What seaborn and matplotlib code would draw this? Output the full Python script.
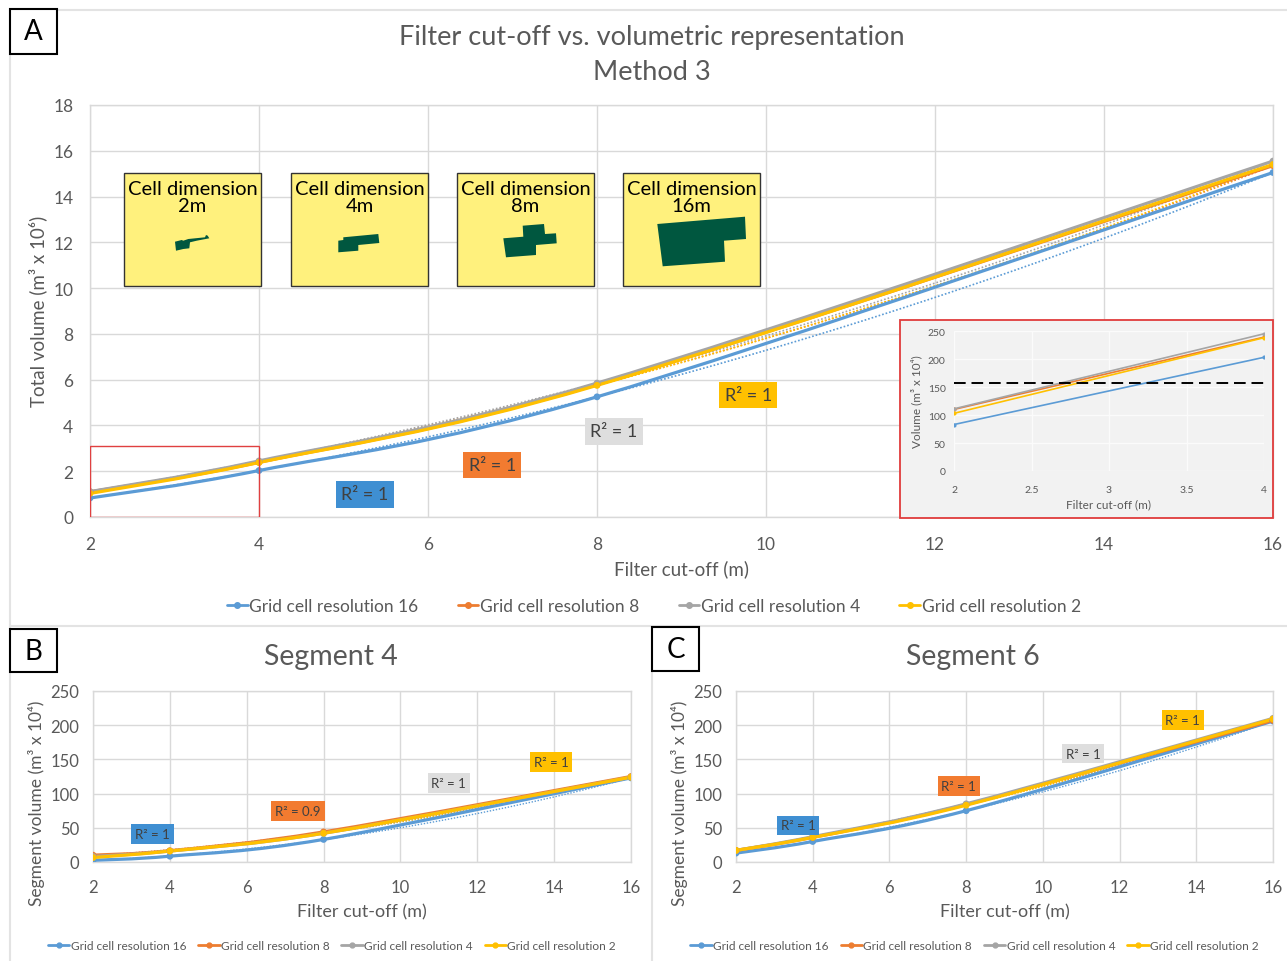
import numpy as np
import pandas as pd
import matplotlib
matplotlib.use("Agg")
import matplotlib.pyplot as plt
from matplotlib.path import Path
from matplotlib.patches import PathPatch, Rectangle, Polygon
from matplotlib.lines import Line2D
import seaborn as sns

sns.set_theme(style="white")
plt.rcParams["font.family"] = ["Lato", "DejaVu Sans"]

# ---------------- data ----------------
cutoff = [2, 4, 8, 16]
series_names = ["Grid cell resolution 16", "Grid cell resolution 8",
                "Grid cell resolution 4", "Grid cell resolution 2"]
colors = ["#5B9BD5", "#ED7D31", "#A5A5A5", "#FFC000"]

# Total volume, method 3 (m3 x 10^6)
total_res16 = [0.83, 2.03, 5.25, 15.05]
total_res8 = [1.10, 2.39, 5.78, 15.35]
total_res4 = [1.11, 2.45, 5.85, 15.55]
total_res2 = [1.03, 2.38, 5.75, 15.40]

# Segment 4 volume (m3 x 10^4)
seg4_res16 = [2.5, 8.5, 33, 123]
seg4_res8 = [10, 16.5, 44, 125]
seg4_res4 = [8, 16, 42, 124]
seg4_res2 = [6.5, 16, 42, 124]

# Segment 6 volume (m3 x 10^4)
seg6_res16 = [13, 30, 75, 206]
seg6_res8 = [17, 36, 84, 207]
seg6_res4 = [17, 37, 85, 210]
seg6_res2 = [17, 36, 83, 209]

# Inset: first two cut-offs in m3 x 10^4
inset_cutoff = [2, 4]
inset_res16 = [83, 203]
inset_res8 = [110, 239]
inset_res4 = [111, 245]
inset_res2 = [103, 238]
inset_threshold = 158

# R² labels: (text, x, y) per series
r2_total = [("R² = 1", 5.25, 1.0), ("R² = 1", 6.76, 2.27),
            ("R² = 1", 8.2, 3.75), ("R² = 1", 9.79, 5.33)]
r2_seg4 = [("R² = 1", 3.54, 41), ("R² = 0.9", 7.33, 74.6),
           ("R² = 1", 11.26, 115), ("R² = 1", 13.92, 146)]
r2_seg6 = [("R² = 1", 3.62, 53.4), ("R² = 1", 7.81, 111),
           ("R² = 1", 11.05, 158.6), ("R² = 1", 13.65, 207.6)]
r2_fill = ["#3F8FD2", "#F27B30", "#DEDEDE", "#FFC000"]

cell_dims = ["2m", "4m", "8m", "16m"]

TXT = "#595959"
GRID = "#D9D9D9"

W, H = 1287, 962
fig = plt.figure(figsize=(W / 100, H / 100), dpi=100)


def fx(px):
    return px / W


def fy(py):
    return 1 - py / H


def axes_px(l, t, r, b, **kw):
    return fig.add_axes([fx(l), fy(b), fx(r) - fx(l), fy(t) - fy(b)], **kw)


def smooth_path(x, y):
    """Cardinal-spline (Excel style) curve through the points as a Bezier path."""
    pts = np.column_stack([x, y]).astype(float)
    verts = [pts[0]]
    codes = [Path.MOVETO]
    n = len(pts)
    for i in range(n - 1):
        p0 = pts[i - 1] if i > 0 else pts[i]
        p1, p2 = pts[i], pts[i + 1]
        p3 = pts[i + 2] if i + 2 < n else pts[i + 1]
        verts += [p1 + (p2 - p0) / 6, p2 - (p3 - p1) / 6, p2]
        codes += [Path.CURVE4] * 3
    return Path(verts, codes)


def style_axes(ax, xticks, yticks, tick_fs, xpad, ypad):
    ax.set_xticks(xticks)
    ax.set_yticks(yticks)
    ax.grid(True, color=GRID, lw=1)
    for s in ax.spines.values():
        s.set_color(GRID)
        s.set_linewidth(1)
    ax.tick_params(length=0, labelsize=tick_fs, colors=TXT)
    ax.tick_params(axis="x", pad=xpad)
    ax.tick_params(axis="y", pad=ypad)
    ax.set_xlabel("")
    ax.set_ylabel("")


def draw_series(ax, x, ys, lw, ms, trend_lw):
    df = pd.concat([pd.DataFrame({"cutoff": x, "volume": y, "series": n})
                    for y, n in zip(ys, series_names)])
    xx = np.linspace(min(x), max(x), 200)
    for y, c in zip(ys, colors):
        coef = np.polyfit(x, y, 2)
        ax.plot(xx, np.polyval(coef, xx), color=c, lw=trend_lw, ls=(0, (1, 1.2)), zorder=2)
    for y, c in zip(ys, colors):
        ax.add_patch(PathPatch(smooth_path(x, y), fill=False, edgecolor=c, lw=lw, zorder=3))
    sns.scatterplot(data=df, x="cutoff", y="volume", hue="series", palette=colors,
                    s=ms, edgecolor="none", legend=False, ax=ax, zorder=4)


def r2_labels(ax, labels, fs):
    for (t, x, y), c in zip(labels, r2_fill):
        ax.text(x, y, t, ha="center", va="center", fontsize=fs, color="#404040", zorder=6,
                bbox=dict(boxstyle="square,pad=0.3", fc=c, ec="none"))


def legend(ax_anchor_x, y, fs, ms, handlelen, spacing):
    handles = [Line2D([0], [0], color=c, lw=2, marker="o", markersize=ms) for c in colors]
    fig.legend(handles, series_names, loc="center", bbox_to_anchor=(ax_anchor_x, y),
               ncol=4, frameon=False, fontsize=fs, handlelength=handlelen,
               handletextpad=0.1, columnspacing=spacing, labelcolor=TXT)


def panel_letter(l, t, r, b, letter):
    fig.patches.append(Rectangle((fx(l), fy(b)), fx(r) - fx(l), fy(t) - fy(b),
                                 transform=fig.transFigure, fill=True, fc="white",
                                 ec="black", lw=1.5, zorder=5))
    fig.text(fx((l + r) / 2), fy((t + b) / 2), letter, ha="center", va="center",
             fontsize=20, color="black", zorder=6)


# Panel frames
for (x0, y0, x1, y1) in [(10, 11, W, 11), (10, 11, 10, 962), (10, 627, W, 627),
                         (652, 627, 652, 962)]:
    fig.add_artist(Line2D([fx(x0), fx(x1)], [fy(y0), fy(y1)], color="#E3E3E3", lw=1.5,
                          transform=fig.transFigure))

# ---------------- Panel A ----------------
axA = axes_px(90, 106, 1273, 518)
draw_series(axA, cutoff, [total_res16, total_res8, total_res4, total_res2], 2.3, 24, 1.2)
axA.set_xlim(2, 16)
axA.set_ylim(0, 18)
style_axes(axA, range(2, 17, 2), range(0, 19, 2), 12.5, 14, 12)
r2_labels(axA, r2_total, 13)
axA.add_patch(Rectangle((2, 0), 2, 3.1, fill=False, ec="#E04040", lw=1, zorder=5))

fig.text(fx(652), fy(37), "Filter cut-off vs. volumetric representation", ha="center",
         va="center", fontsize=19.5, color=TXT)
fig.text(fx(652), fy(72), "Method 3", ha="center", va="center", fontsize=19.5, color=TXT)
fig.text(fx(38), fy(311), "Total volume (m³ x 10⁶)", rotation=90, ha="center",
         va="center", fontsize=13.5, color=TXT)
fig.text(fx(681), fy(569), "Filter cut-off (m)", ha="center", va="center",
         fontsize=13.5, color=TXT)
legend(fx(654), fy(607), 12.5, 4, 1.2, 2.25)
panel_letter(10, 10, 57, 55, "A")

# Cell-dimension boxes
box_lefts = [124, 291, 457, 623]
shapes = [
    [(175, 242.7), (181.7, 241), (183.3, 241.7), (188.3, 240), (205, 238.3), (206, 236),
     (207.7, 236.7), (209.3, 239.3), (196.7, 241.7), (190, 243.3), (189.3, 249.3),
     (183.3, 250), (176, 251.7)],
    [(338.3, 241.7), (343.3, 241), (343.3, 238.3), (378.3, 235), (379.3, 244),
     (358.3, 246), (358.3, 251.7), (338.3, 253.3)],
    [(503.3, 239.3), (523.3, 237.7), (522.7, 226.7), (544, 225), (545, 235),
     (556, 234.3), (556.7, 244.3), (536, 246), (536, 256), (506, 258.3)],
    [(657.3, 225), (745, 217.7), (746, 240), (724, 241.7), (725, 262.7), (662.7, 267.3)],
]
for left, dim, shp in zip(box_lefts, cell_dims, shapes):
    fig.patches.append(Rectangle((fx(left), fy(287)), fx(137), 113 / H,
                                 transform=fig.transFigure, fc="#FFF17D", ec="#333333",
                                 lw=1, zorder=5))
    fig.text(fx(left + 68.5), fy(198), "Cell dimension\n" + dim, ha="center", va="center",
             fontsize=14.5, color="black", linespacing=0.95, zorder=6)
    fig.patches.append(Polygon([(fx(a), fy(b)) for a, b in shp], closed=True,
                               transform=fig.transFigure, fc="#00573F", ec="none", zorder=6))

# Inset
fig.patches.append(Rectangle((fx(900), fy(519)), fx(373), 198 / H, transform=fig.transFigure,
                             fc="#F2F2F2", ec="#E03C3C", lw=1.3, zorder=5))
axI = axes_px(954, 332, 1264, 472)
axI.set_zorder(6)
axI.set_facecolor("#F2F2F2")
inset_df = pd.concat([pd.DataFrame({"cutoff": inset_cutoff, "volume": y, "series": n})
                      for y, n in zip([inset_res16, inset_res8, inset_res4, inset_res2],
                                      series_names)])
sns.lineplot(data=inset_df, x="cutoff", y="volume", hue="series", palette=colors,
             marker="o", markersize=3, markeredgewidth=0, lw=1.2, legend=False, ax=axI)
axI.axhline(inset_threshold, color="black", lw=1.4, ls=(0, (6, 3)), xmin=0, xmax=1)
axI.set_xlim(2, 4)
axI.set_ylim(0, 250)
axI.set_xticks([2, 2.5, 3, 3.5, 4])
axI.set_xticklabels(["2", "2.5", "3", "3.5", "4"])
axI.set_yticks(range(0, 251, 50))
axI.grid(True, color="#FBFBFB", lw=1)
for s in axI.spines.values():
    s.set_visible(False)
axI.tick_params(length=0, labelsize=7.5, colors=TXT)
axI.tick_params(axis="x", pad=10)
axI.tick_params(axis="y", pad=6)
axI.set_xlabel("Filter cut-off (m)", fontsize=8.5, color=TXT, labelpad=3)
axI.set_ylabel("Volume (m³ x 10⁴)", fontsize=8.5, color=TXT, labelpad=4)

# ---------------- Panels B and C ----------------
panels = [
    (93, 631, "Segment 4", [seg4_res16, seg4_res8, seg4_res4, seg4_res2], r2_seg4, 37, "B",
     (10, 630, 57, 673), 331),
    (736, 1273, "Segment 6", [seg6_res16, seg6_res8, seg6_res4, seg6_res2], r2_seg6, 680, "C",
     (652, 628, 699, 672), 973),
]
for l, r, title, ys, r2, ylab_x, letter, lbox, tx in panels:
    ax = axes_px(l, 692, r, 863)
    draw_series(ax, cutoff, ys, 2.3, 24, 1.0)
    ax.set_xlim(2, 16)
    ax.set_ylim(0, 250)
    style_axes(ax, range(2, 17, 2), range(0, 251, 50), 12, 12, 10)
    r2_labels(ax, r2, 9.5)
    fig.text(fx(tx), fy(657), title, ha="center", va="center", fontsize=20.5, color=TXT)
    fig.text(fx(ylab_x), fy(803), "Segment volume (m³ x 10⁴)", rotation=90, ha="center",
             va="center", fontsize=12.5, color=TXT)
    fig.text(fx((l + r) / 2), fy(912), "Filter cut-off (m)", ha="center", va="center",
             fontsize=13, color=TXT)
    legend(fx((l + r) / 2 - 30), fy(947), 8.6, 3.5, 1.8, 1.0)
    panel_letter(*lbox, letter)

fig.savefig("out.png", dpi=100, facecolor="white")
